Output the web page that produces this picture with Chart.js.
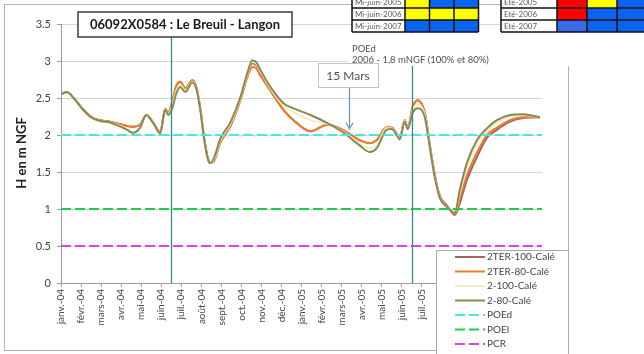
<!DOCTYPE html>
<html><head><meta charset="utf-8">
<script src="https://cdn.jsdelivr.net/npm/chart.js@4"></script>
<style>html,body{margin:0;padding:0;background:#fff}#wrap{width:644px;height:354px;position:relative}</style>
</head><body><div id="wrap"><canvas id="c" width="644" height="354"></canvas></div>
<script>
// Month axis: 0 = janv.-04, 24 = janv.-06
const monthLabels = ['janv.-04','févr.-04','mars-04','avr.-04','mai-04','juin-04','juil.-04','août-04','sept.-04','oct.-04','nov.-04','déc.-04',
  'janv.-05','févr.-05','mars-05','avr.-05','mai-05','juin-05','juil.-05','août-05','sept.-05','oct.-05','nov.-05','déc.-05','janv.-06'];

// Sampling positions (in months) shared by the simulated heads
const months = [0,0.3,0.6,1.1,1.55,1.95,2.45,2.9,3.3,3.6,3.95,4.25,4.6,4.95,5.2,5.35,5.55,5.75,5.95,6.2,6.55,6.75,6.95,7.15,7.35,7.45,7.65,7.95,8.45,8.95,
  9.3,9.55,9.75,9.95,10.45,11.1,11.6,12.45,13.3,14.05,14.9,15.4,15.75,16.25,16.5,16.75,16.9,17.15,17.3,17.55,17.8,18.15,18.4,18.65,18.9,19.25,19.65,19.9,
  20.25,20.75,21.25,21.75,22.4,23.05,23.9];

// Heads in m NGF
const ter100 = [2.55,2.58,2.51,2.35,2.24,2.20,2.18,2.15,2.12,2.11,2.14,2.27,2.17,2.04,2.35,2.30,2.45,2.66,2.72,2.63,2.74,2.65,2.36,1.94,1.66,1.62,1.66,1.90,2.12,2.48,
  2.80,2.97,2.94,2.84,2.60,2.34,2.20,2.05,2.14,2.07,1.93,1.89,1.93,2.10,2.10,2.02,1.96,2.20,2.10,2.38,2.47,2.30,1.87,1.46,1.18,1.05,0.92,1.08,
  1.39,1.70,1.96,2.07,2.18,2.23,2.24];
const ter80 = [2.55,2.58,2.51,2.35,2.24,2.20,2.18,2.15,2.12,2.11,2.14,2.27,2.17,2.04,2.35,2.30,2.45,2.66,2.72,2.63,2.74,2.65,2.36,1.94,1.66,1.62,1.66,1.90,2.12,2.47,
  2.78,2.92,2.90,2.80,2.60,2.34,2.20,2.05,2.14,2.07,1.93,1.89,1.93,2.10,2.10,2.02,1.96,2.20,2.10,2.38,2.47,2.30,1.87,1.45,1.17,1.04,0.94,1.14,
  1.45,1.76,2.00,2.10,2.20,2.24,2.24];
const s100 = [2.55,2.58,2.51,2.34,2.23,2.19,2.17,2.13,2.08,2.04,2.10,2.27,2.16,2.02,2.34,2.28,2.40,2.60,2.68,2.60,2.72,2.64,2.35,1.93,1.66,1.62,1.68,1.93,2.15,2.50,
  2.82,2.99,2.96,2.86,2.63,2.40,2.31,2.20,2.15,2.05,1.89,1.82,1.86,2.09,2.09,2.01,1.95,2.19,2.09,2.34,2.42,2.27,1.85,1.44,1.16,1.03,0.95,1.22,
  1.56,1.88,2.05,2.17,2.25,2.27,2.24];
const s80 = [2.55,2.58,2.51,2.34,2.23,2.19,2.17,2.12,2.07,2.03,2.10,2.27,2.16,2.02,2.34,2.27,2.36,2.56,2.65,2.58,2.71,2.63,2.34,1.93,1.66,1.62,1.70,1.95,2.17,2.51,
  2.84,3.01,2.98,2.88,2.65,2.43,2.36,2.27,2.16,2.04,1.86,1.77,1.82,2.07,2.08,2.00,1.94,2.18,2.08,2.30,2.36,2.24,1.84,1.43,1.15,1.03,0.95,1.26,
  1.62,1.93,2.09,2.20,2.27,2.28,2.24];

// Reference thresholds (m NGF)
const poed = 2, poel = 1, pcr = 0.5;

// Reference dates (months): mi-juin 2004, mi-juin 2005, 15 mars 2005
const markerMonths = [5.5, 17.5];
const marsMonth = 14.35;

// Status tables
const tableLeftRows = ['Mi-juin-2005','Mi-juin-2006','Mi-juin-2007'];
const tableLeftColors = [['#ffff00','#0a64f0','#0a64f0'],['#ffff00','#ffff00','#ffff00'],['#0a64f0','#0a64f0','#0a64f0']];
const tableRightRows = ['Eté-2005','Eté-2006','Eté-2007'];
const tableRightColors = [['#ff0000','#ffff00','#0a64f0'],['#ff0000','#0a64f0','#0a64f0'],['#3a6ae8','#0a64f0','#0a64f0']];

const seriesNames = ['2TER-100-Calé','2TER-80-Calé','2-100-Calé','2-80-Calé','POEd','POEl','PCR'];
const seriesColors = ['#a2645e','#f07a2a','#f3eec6','#868a52','#4fe4e4','#22cc44','#de44de'];

const FONT = 'Lato, "Liberation Sans", sans-serif';
const pts = arr => months.map((m, i) => ({x: m, y: arr[i]}));
const flat = v => [{x: 0, y: v}, {x: 24, y: v}];

const curveDs = (i, arr) => ({label: seriesNames[i], data: pts(arr), borderColor: seriesColors[i], borderWidth: 2,
  pointRadius: 0, cubicInterpolationMode: 'monotone', fill: false, order: 10 - i});
const refDs = (i, v) => ({label: seriesNames[i], data: flat(v), borderColor: seriesColors[i], borderWidth: 2,
  borderDash: [10, 4], pointRadius: 0, fill: false, order: 10 - i});

const overlay = {
  id: 'overlay',
  beforeDraw(chart) {
    const ctx = chart.ctx;
    ctx.save();
    ctx.fillStyle = '#fff';
    ctx.fillRect(0, 0, chart.width, chart.height);
    ctx.strokeStyle = '#b4b4b4';
    ctx.lineWidth = 1;
    ctx.strokeRect(4.5, 4.5, 564, 346);
    ctx.restore();
  },
  afterDatasetsDraw(chart) {
    const ctx = chart.ctx, xs = chart.scales.x, a = chart.chartArea;
    ctx.save();
    ctx.strokeStyle = '#2f8c8c';
    ctx.lineWidth = 1.3;
    markerMonths.forEach(m => {
      const px = Math.round(xs.getPixelForValue(m)) + 0.5;
      ctx.beginPath(); ctx.moveTo(px, a.top); ctx.lineTo(px, a.bottom); ctx.stroke();
    });
    ctx.restore();
  },
  afterDraw(chart) {
    const ctx = chart.ctx, xs = chart.scales.x, ys = chart.scales.y;
    ctx.save();

    // y axis title
    ctx.save();
    ctx.translate(22, 153);
    ctx.rotate(-Math.PI / 2);
    ctx.font = 'bold 13px ' + FONT;
    ctx.fillStyle = '#1e1e1e';
    ctx.textAlign = 'center'; ctx.textBaseline = 'middle';
    ctx.fillText('H en m NGF', 0, 0);
    ctx.restore();

    // station title box
    ctx.fillStyle = '#fff';
    ctx.fillRect(78, 12, 214, 25);
    ctx.strokeStyle = '#3c3c3c'; ctx.lineWidth = 1.5;
    ctx.strokeRect(78, 12, 214, 25);
    ctx.font = 'bold 13px ' + FONT;
    ctx.fillStyle = '#1a1a1a';
    ctx.textAlign = 'center'; ctx.textBaseline = 'middle';
    ctx.fillText('06092X0584 : Le Breuil - Langon', 185, 25);

    // POEd note
    ctx.fillStyle = '#fff';
    ctx.fillRect(348, 33, 252, 33);
    ctx.font = '9.5px ' + FONT;
    ctx.fillStyle = '#505050';
    ctx.textAlign = 'left'; ctx.textBaseline = 'middle';
    ctx.fillText('POEd', 352, 49);
    ctx.fillText('2006 - 1,8 mNGF (100% et 80%)', 352, 60);

    // 15 Mars callout
    const ax = Math.round(xs.getPixelForValue(marsMonth)) + 0.5;
    const ay = ys.getPixelForValue(2.07);
    ctx.strokeStyle = '#6f8fb4'; ctx.lineWidth = 1.2;
    ctx.beginPath(); ctx.moveTo(ax, 87); ctx.lineTo(ax, ay - 1); ctx.stroke();
    ctx.beginPath(); ctx.moveTo(ax - 3.5, ay - 7); ctx.lineTo(ax, ay - 1); ctx.lineTo(ax + 3.5, ay - 7); ctx.stroke();
    ctx.fillStyle = '#fff';
    ctx.fillRect(318, 63, 60, 24);
    ctx.strokeStyle = '#c4c4c4'; ctx.lineWidth = 1;
    ctx.strokeRect(318.5, 63.5, 60, 24);
    ctx.font = '12px ' + FONT;
    ctx.fillStyle = '#505050';
    ctx.textAlign = 'center';
    ctx.fillText('15 Mars', 348, 76);

    // status tables
    const drawTable = (x0, labelW, cellW, rows, colors) => {
      const rowY = [-4, 8, 20], rh = 12;
      ctx.font = '8px ' + FONT;
      rows.forEach((r, i) => {
        const y = rowY[i];
        ctx.fillStyle = '#fff';
        ctx.fillRect(x0, y, labelW, rh);
        colors[i].forEach((c, j) => {
          ctx.fillStyle = c;
          ctx.fillRect(x0 + labelW + j * cellW, y, cellW, rh);
        });
        ctx.fillStyle = '#5a5a5a';
        ctx.textAlign = 'left'; ctx.textBaseline = 'middle';
        ctx.fillText(r, x0 + 3, y + rh / 2 + 0.5);
      });
      ctx.strokeStyle = '#111'; ctx.lineWidth = 1.5;
      const w = labelW + 3 * cellW;
      rowY.forEach(y => { ctx.beginPath(); ctx.moveTo(x0, y); ctx.lineTo(x0 + w, y); ctx.stroke(); });
      ctx.beginPath(); ctx.moveTo(x0, 32); ctx.lineTo(x0 + w, 32); ctx.stroke();
      [0, labelW, labelW + cellW, labelW + 2 * cellW, w].forEach(dx => {
        ctx.beginPath(); ctx.moveTo(x0 + dx, -4); ctx.lineTo(x0 + dx, 32); ctx.stroke();
      });
    };
    drawTable(352, 53, 24.5, tableLeftRows, tableLeftColors);
    drawTable(501, 56, 30, tableRightRows, tableRightColors);

    // legend
    ctx.fillStyle = '#fff';
    ctx.fillRect(436, 250, 132, 106);
    ctx.strokeStyle = '#a8a8a8'; ctx.lineWidth = 1;
    ctx.strokeRect(436.5, 250.5, 132, 106);
    const rowsY = [257, 271.5, 286, 300.5, 315, 329.5, 344];
    ctx.font = '10px ' + FONT;
    chart.data.datasets.forEach((ds, i) => {
      const y = rowsY[i];
      ctx.strokeStyle = ds.borderColor; ctx.lineWidth = 2;
      ctx.setLineDash(ds.borderDash || []);
      ctx.beginPath(); ctx.moveTo(455, y); ctx.lineTo(485, y); ctx.stroke();
      ctx.setLineDash([]);
      ctx.fillStyle = '#454545';
      ctx.textAlign = 'left'; ctx.textBaseline = 'middle';
      ctx.fillText(ds.label, 487, y);
    });
    ctx.restore();
  }
};

new Chart(document.getElementById('c'), {
  type: 'line',
  data: {
    datasets: [
      curveDs(0, ter100), curveDs(1, ter80), curveDs(2, s100), curveDs(3, s80),
      refDs(4, poed), refDs(5, poel), refDs(6, pcr)
    ]
  },
  options: {
    responsive: false,
    animation: false,
    devicePixelRatio: 1,
    layout: {padding: {top: 24, right: 102, left: 0, bottom: 0}},
    plugins: {legend: {display: false}, tooltip: {enabled: false}},
    scales: {
      x: {
        type: 'linear', min: 0, max: 24,
        afterFit: s => { s.height = 71; },
        border: {color: '#9c9c9c'},
        grid: {drawOnChartArea: false, drawTicks: true, tickLength: 4, color: '#9c9c9c'},
        ticks: {
          stepSize: 1, autoSkip: false, minRotation: 90, maxRotation: 90, padding: 2,
          color: '#454545', font: {family: FONT, size: 10},
          callback: v => monthLabels[v] || ''
        }
      },
      y: {
        min: 0, max: 3.5,
        afterFit: s => { s.width = 61; },
        border: {color: '#9c9c9c'},
        grid: {color: '#d6d6d6', tickLength: 4, tickColor: '#9c9c9c'},
        ticks: {stepSize: 0.5, padding: 6, color: '#404040', font: {family: FONT, size: 11},
          callback: v => String(v)}
      }
    }
  },
  plugins: [overlay]
});
</script></body></html>
